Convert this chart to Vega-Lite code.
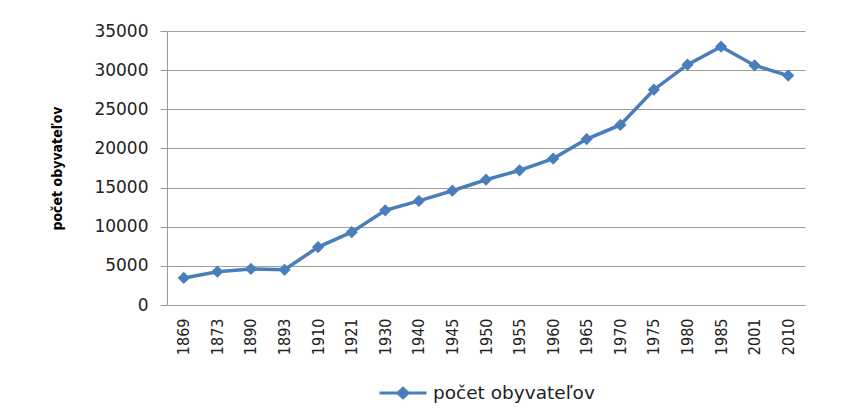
{
  "$schema": "https://vega.github.io/schema/vega-lite/v6.json",
  "width": 638,
  "height": 274,
  "autosize": "none",
  "padding": {"left": 167, "top": 31, "right": 44, "bottom": 115},
  "background": "white",
  "config": {"view": {"stroke": null}},
  "data": {
    "values": [
      {"rok": "1869", "pocet": 3450, "seria": "počet obyvateľov"},
      {"rok": "1873", "pocet": 4250, "seria": "počet obyvateľov"},
      {"rok": "1890", "pocet": 4600, "seria": "počet obyvateľov"},
      {"rok": "1893", "pocet": 4500, "seria": "počet obyvateľov"},
      {"rok": "1910", "pocet": 7400, "seria": "počet obyvateľov"},
      {"rok": "1921", "pocet": 9300, "seria": "počet obyvateľov"},
      {"rok": "1930", "pocet": 12100, "seria": "počet obyvateľov"},
      {"rok": "1940", "pocet": 13300, "seria": "počet obyvateľov"},
      {"rok": "1945", "pocet": 14600, "seria": "počet obyvateľov"},
      {"rok": "1950", "pocet": 16000, "seria": "počet obyvateľov"},
      {"rok": "1955", "pocet": 17200, "seria": "počet obyvateľov"},
      {"rok": "1960", "pocet": 18700, "seria": "počet obyvateľov"},
      {"rok": "1965", "pocet": 21200, "seria": "počet obyvateľov"},
      {"rok": "1970", "pocet": 23000, "seria": "počet obyvateľov"},
      {"rok": "1975", "pocet": 27500, "seria": "počet obyvateľov"},
      {"rok": "1980", "pocet": 30700, "seria": "počet obyvateľov"},
      {"rok": "1985", "pocet": 33000, "seria": "počet obyvateľov"},
      {"rok": "2001", "pocet": 30600, "seria": "počet obyvateľov"},
      {"rok": "2010", "pocet": 29300, "seria": "počet obyvateľov"}
    ]
  },
  "encoding": {
    "x": {
      "field": "rok",
      "type": "ordinal",
      "sort": null,
      "scale": {"paddingInner": 0, "paddingOuter": 0},
      "axis": {
        "title": null,
        "labelAngle": -90,
        "labelFont": "DejaVu Sans Condensed",
        "labelFontSize": 16,
        "labelColor": "#222222",
        "labelPadding": 13,
        "ticks": false,
        "domain": false,
        "grid": false
      }
    },
    "y": {
      "field": "pocet",
      "type": "quantitative",
      "scale": {"domain": [0, 35000], "nice": false},
      "axis": {
        "values": [0, 5000, 10000, 15000, 20000, 25000, 30000, 35000],
        "format": "d",
        "title": "počet obyvateľov",
        "titleFont": "DejaVu Sans Condensed",
        "titleFontSize": 14,
        "titleFontWeight": "bold",
        "titleColor": "#000000",
        "titleX": -110,
        "titleY": 137,
        "titleAngle": 270,
        "titleAlign": "center",
        "titleBaseline": "middle",
        "labelFont": "DejaVu Sans",
        "labelFontSize": 17,
        "labelColor": "#222222",
        "labelPadding": 12,
        "tickSize": 7,
        "tickColor": "#999999",
        "domainColor": "#999999",
        "gridColor": "#a0a0a0",
        "grid": true
      }
    },
    "color": {
      "field": "seria",
      "type": "nominal",
      "scale": {"range": ["#4A7EBB"]},
      "legend": {
        "title": null,
        "orient": "none",
        "legendX": 211,
        "legendY": 337,
        "symbolType": "M-1,0L1,0M-0.22,0L0,-0.2L0.22,0L0,0.2Z",
        "symbolSize": 2209,
        "symbolStrokeWidth": 3,
        "symbolFillColor": "#4A7EBB",
        "symbolStrokeColor": "#4A7EBB",
        "labelFont": "DejaVu Sans",
        "labelFontSize": 18.5,
        "labelLimit": 400,
        "labelColor": "#222222",
        "labelOffset": 5
      }
    }
  },
  "layer": [
    {"mark": {"type": "line", "strokeWidth": 3.5}},
    {"mark": {"type": "point", "shape": "diamond", "filled": true, "size": 150, "opacity": 1}}
  ]
}
